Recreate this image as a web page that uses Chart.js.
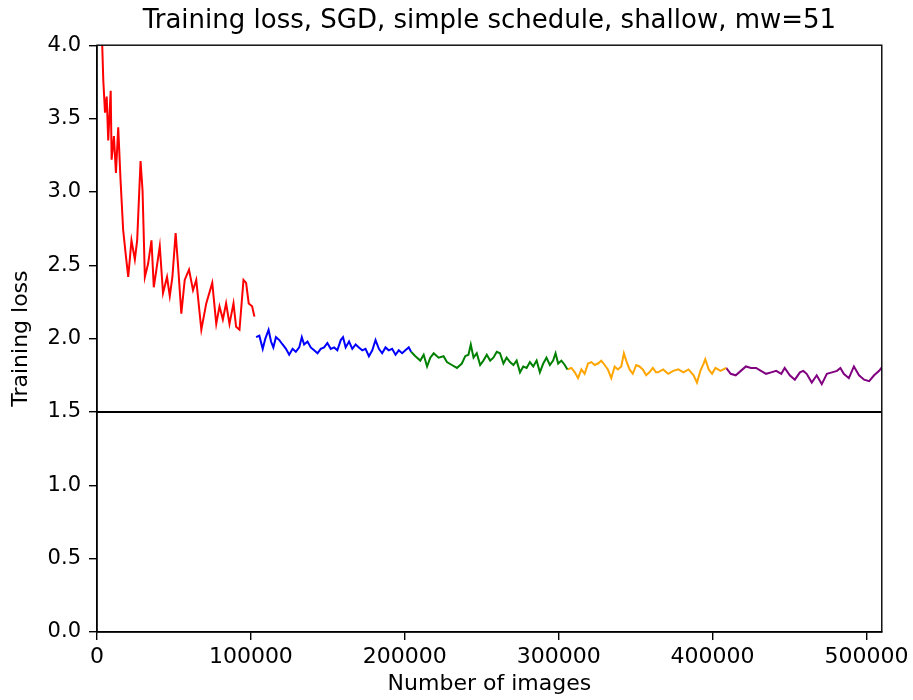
<!DOCTYPE html>
<html>
<head>
<meta charset="utf-8">
<script src="https://cdn.jsdelivr.net/npm/chart.js@4/dist/chart.umd.min.js"></script>
<style>
  body { margin: 0; background: #fff; }
  #wrap { width: 913px; height: 700px; }
</style>
</head>
<body>
<div id="wrap"><canvas id="lossChart" width="913" height="700"></canvas></div>
<script>
// images seen / training loss, one pair of arrays per schedule stage
const imagesRed = [2500, 4100, 5200, 6300, 7300, 8900, 9500, 11000, 12300, 13800, 15300, 17000, 18800, 20300, 22400, 24600, 26100, 28300, 29600, 31100, 33200, 35400, 36900, 38600, 40800, 42900, 45500, 47300, 49000, 51100, 52600, 54800, 57000, 59800, 62400, 64500, 67800, 71000, 74900, 77500, 79600, 81800, 83900, 86100, 88700, 90400, 92600, 95200, 96900, 98600, 100800, 102300];
const lossRed = [4.30, 3.76, 3.54, 3.65, 3.35, 3.69, 3.22, 3.38, 3.13, 3.44, 3.08, 2.74, 2.56, 2.42, 2.67, 2.54, 2.67, 3.21, 3.01, 2.42, 2.51, 2.67, 2.35, 2.47, 2.63, 2.31, 2.42, 2.29, 2.42, 2.72, 2.51, 2.17, 2.40, 2.47, 2.33, 2.40, 2.06, 2.24, 2.38, 2.10, 2.22, 2.13, 2.24, 2.10, 2.24, 2.08, 2.06, 2.40, 2.38, 2.24, 2.22, 2.15];

const imagesBlue = [103400, 105500, 107700, 109400, 111500, 113100, 114600, 116300, 118500, 120600, 122800, 124900, 127100, 129200, 131400, 133100, 134600, 136800, 138900, 141100, 143300, 145400, 147600, 149700, 151900, 154100, 156200, 158400, 159900, 161600, 163800, 165900, 168100, 170200, 172400, 174500, 176700, 178900, 181000, 183200, 185300, 187500, 189600, 191800, 194000, 196100, 198300, 200400, 202600, 204100];
const lossBlue = [2.01, 2.02, 1.93, 2.00, 2.06, 1.98, 1.94, 2.01, 1.99, 1.96, 1.93, 1.89, 1.93, 1.91, 1.94, 2.01, 1.96, 1.98, 1.94, 1.92, 1.90, 1.93, 1.94, 1.97, 1.93, 1.94, 1.92, 1.99, 2.01, 1.94, 1.98, 1.93, 1.96, 1.94, 1.92, 1.93, 1.88, 1.92, 1.99, 1.93, 1.90, 1.94, 1.92, 1.93, 1.89, 1.92, 1.90, 1.92, 1.94, 1.91];

const imagesGreen = [204100, 206900, 210100, 212300, 214500, 216600, 218800, 222000, 225200, 227400, 230600, 233900, 237100, 239300, 241400, 242900, 244700, 246800, 249000, 251100, 253300, 255500, 257600, 259800, 261900, 264100, 266200, 268400, 270600, 272700, 274900, 277000, 279200, 281300, 283500, 285700, 287800, 290000, 292100, 294300, 296400, 298000, 299700, 301800, 304000, 305700];
const lossGreen = [1.91, 1.88, 1.85, 1.89, 1.81, 1.87, 1.90, 1.87, 1.88, 1.84, 1.82, 1.80, 1.83, 1.88, 1.89, 1.96, 1.87, 1.90, 1.82, 1.85, 1.89, 1.85, 1.87, 1.91, 1.90, 1.83, 1.87, 1.84, 1.82, 1.85, 1.77, 1.81, 1.80, 1.84, 1.81, 1.85, 1.77, 1.83, 1.87, 1.82, 1.85, 1.90, 1.83, 1.85, 1.82, 1.79];

const imagesOrange = [305700, 308300, 310500, 312600, 314800, 316900, 319100, 321300, 323400, 325600, 327700, 329900, 332000, 334200, 336400, 338500, 340700, 342400, 343900, 346100, 348200, 350400, 352500, 354700, 356900, 359000, 361200, 363300, 364600, 367900, 371200, 374500, 377800, 381100, 384400, 387700, 389900, 392100, 394200, 395300, 397500, 399700, 401900, 405200, 408900];
const lossOrange = [1.79, 1.80, 1.77, 1.73, 1.79, 1.76, 1.83, 1.84, 1.82, 1.83, 1.85, 1.82, 1.79, 1.73, 1.81, 1.79, 1.81, 1.90, 1.85, 1.79, 1.76, 1.82, 1.81, 1.79, 1.75, 1.77, 1.80, 1.77, 1.77, 1.79, 1.76, 1.78, 1.79, 1.77, 1.79, 1.75, 1.70, 1.78, 1.83, 1.86, 1.79, 1.76, 1.80, 1.78, 1.80];

const imagesPurple = [408900, 411800, 415100, 418400, 421700, 425000, 428300, 431500, 434800, 438100, 441400, 444700, 446900, 450200, 453500, 456800, 459000, 461200, 464500, 467700, 471000, 474300, 477600, 480900, 483100, 485300, 488600, 491900, 495200, 498500, 501800, 505000, 508300, 510500];
const lossPurple = [1.80, 1.76, 1.75, 1.78, 1.81, 1.80, 1.80, 1.78, 1.76, 1.77, 1.78, 1.76, 1.80, 1.75, 1.72, 1.77, 1.78, 1.76, 1.70, 1.75, 1.69, 1.76, 1.77, 1.78, 1.80, 1.76, 1.73, 1.81, 1.75, 1.72, 1.71, 1.75, 1.78, 1.81];

const refLevel = 1.5;
const xMax = 510000;
const xTicks = [0, 100000, 200000, 300000, 400000, 500000];
const yTicks = [0, 0.5, 1.0, 1.5, 2.0, 2.5, 3.0, 3.5, 4.0];

const font = "'DejaVu Sans', sans-serif";

function pairs(xs, ys) {
  return xs.map((x, i) => ({ x: x, y: ys[i] }));
}

function seg(xs, ys, color) {
  return {
    data: pairs(xs, ys),
    borderColor: color,
    borderWidth: 2,
    pointRadius: 0,
    tension: 0,
    fill: false,
  };
}

// matplotlib-style box around the axes
const frame = {
  id: "frame",
  afterDraw(chart) {
    const { ctx, chartArea: a } = chart;
    ctx.save();
    ctx.strokeStyle = "#000";
    ctx.lineWidth = 1.4;
    ctx.strokeRect(a.left, a.top, a.right - a.left, a.bottom - a.top);
    ctx.restore();
  },
};

const ctx = document.getElementById("lossChart");
new Chart(ctx, {
  type: "line",
  data: {
    datasets: [
      seg(imagesRed, lossRed, "#ff0000"),
      seg(imagesBlue, lossBlue, "#0000ff"),
      seg(imagesGreen, lossGreen, "#008000"),
      seg(imagesOrange, lossOrange, "#ffa500"),
      seg(imagesPurple, lossPurple, "#800080"),
      {
        data: [{ x: 0, y: refLevel }, { x: xMax, y: refLevel }],
        borderColor: "#000",
        borderWidth: 2,
        pointRadius: 0,
      },
    ],
  },
  options: {
    responsive: false,
    animation: false,
    layout: { padding: { left: 0, right: 30, top: 0, bottom: 0 } },
    plugins: {
      legend: { display: false },
      tooltip: { enabled: false },
      title: {
        display: true,
        fullSize: false,
        text: "Training loss, SGD, simple schedule, shallow, mw=51",
        color: "#000",
        font: { family: font, size: 26, weight: "normal" },
        padding: { top: 6, bottom: 8 },
      },
    },
    scales: {
      x: {
        type: "linear",
        min: 0,
        max: xMax,
        afterFit(scale) { scale.height = 68; },
        afterBuildTicks(scale) { scale.ticks = xTicks.map((v) => ({ value: v })); },
        ticks: {
          maxRotation: 0,
          autoSkip: false,
          color: "#000",
          padding: 4,
          font: { family: font, size: 22 },
          callback: (v) => String(v),
        },
        grid: { drawOnChartArea: false, drawTicks: true, tickLength: 8, color: "#000", lineWidth: 1.4 },
        border: { display: true, color: "#000", width: 1.4 },
        title: {
          display: true,
          text: "Number of images",
          color: "#000",
          font: { family: font, size: 22 },
          padding: { top: 0, bottom: 3 },
        },
      },
      y: {
        min: 0,
        max: 4,
        afterFit(scale) { scale.width = 97; },
        afterBuildTicks(scale) { scale.ticks = yTicks.map((v) => ({ value: v })); },
        ticks: {
          color: "#000",
          padding: 8,
          font: { family: font, size: 21 },
          callback: (v) => v.toFixed(1),
        },
        grid: { drawOnChartArea: false, drawTicks: true, tickLength: 8, color: "#000", lineWidth: 1.4 },
        border: { display: true, color: "#000", width: 1.4 },
        title: {
          display: true,
          text: "Training loss",
          color: "#000",
          font: { family: font, size: 22 },
          padding: { top: 8, bottom: 0 },
        },
      },
    },
  },
  plugins: [frame],
});
</script>
</body>
</html>
